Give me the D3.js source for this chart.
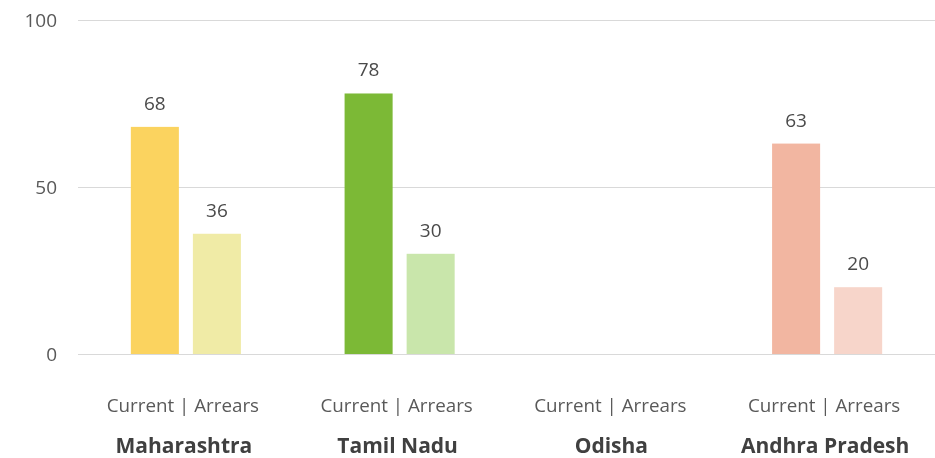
<!DOCTYPE html>
<html>
<head lang="en">
    <meta charset="UTF-8">
    <title></title>
    <script src="https://cdn.jsdelivr.net/npm/d3@7"></script>
    <style>
        *{
            margin: 0;
            padding: 0;
        }
        body{ background:#fff; }
        text{ font-family: "Open Sans", Lato, sans-serif; }
    </style>
</head>
<body>
<div id="mychart" style="width:935px;height:458px;position:fixed;left:0;top:0"></div>
<script>
    // data
    var states = ['Maharashtra', 'Tamil Nadu', 'Odisha', 'Andhra Pradesh'];
    var series = ['Current', 'Arrears'];
    var current = [68, 78, null, 63];
    var arrears = [36, 30, null, 20];
    var yticks = [0, 50, 100];
    var subLabel = 'Current | Arrears';

    // colours per state: [current, arrears]
    var colors = [
        ['#FBD35F', '#F0EBA6'],
        ['#7CB936', '#C9E6AB'],
        ['#cccccc', '#eeeeee'],
        ['#F2B6A1', '#F7D5CA']
    ];

    var _svg = d3.select('#mychart').append('svg')
            .attr('width', 935)
            .attr('height', 458);

    var _left = 79, _right = 934, _top = 20, _bottom = 354;

    var _xscale = d3.scaleBand()
            .domain(states)
            .range([_left, _right])
            .paddingInner(0.485)
            .paddingOuter(0.2425);
    var _x1 = d3.scaleBand()
            .domain(series)
            .range([0, _xscale.bandwidth()])
            .paddingInner(0.2258);
    var _yscale = d3.scaleLinear()
            .domain([0, 100])
            .range([_bottom, _top]);

    // y axis + gridlines
    var _gy = _svg.append('g')
            .attr('transform', 'translate(' + 78 + ',0)');
    _gy.call(d3.axisLeft(_yscale)
            .tickValues(yticks)
            .tickSize(-(935 - 78))
            .tickPadding(21));
    _gy.select('.domain').remove();
    _gy.selectAll('line').attr('stroke', '#d9d9d9').attr('stroke-width', 1.2);
    _gy.selectAll('text')
            .attr('fill', '#595959')
            .style('font-size', '19px')
            .style('font-family', '"Open Sans", Lato, sans-serif');

    // bars
    var rows = [];
    states.forEach(function(s, i){
        if (current[i] != null) rows.push({state: s, i: i, k: 0, key: 'Current', v: current[i]});
        if (arrears[i] != null) rows.push({state: s, i: i, k: 1, key: 'Arrears', v: arrears[i]});
    });

    var _gbars = _svg.append('g');
    _gbars.selectAll('rect')
            .data(rows)
            .enter()
            .append('rect')
            .attr('x', function(d){ return _xscale(d.state) + _x1(d.key); })
            .attr('y', function(d){ return _yscale(d.v); })
            .attr('width', _x1.bandwidth())
            .attr('height', function(d){ return _bottom - _yscale(d.v); })
            .attr('fill', function(d){ return colors[d.i][d.k]; });

    _gbars.selectAll('text')
            .data(rows)
            .enter()
            .append('text')
            .attr('x', function(d){ return _xscale(d.state) + _x1(d.key) + _x1.bandwidth() / 2; })
            .attr('y', function(d){ return _yscale(d.v) - 17; })
            .attr('text-anchor', 'middle')
            .attr('fill', '#4a4a4a')
            .style('font-size', '19px')
            .text(function(d){ return d.v; });

    // category labels
    var _glab = _svg.append('g');
    _glab.selectAll('text.sub')
            .data(states)
            .enter()
            .append('text')
            .attr('class', 'sub')
            .attr('x', function(d){ return _xscale(d) + _xscale.bandwidth() / 2 - 3; })
            .attr('y', 412)
            .attr('text-anchor', 'middle')
            .attr('fill', '#595959')
            .style('font-size', '18.8px')
            .text(subLabel);
    _glab.selectAll('text.state')
            .data(states)
            .enter()
            .append('text')
            .attr('class', 'state')
            .attr('x', function(d){ return _xscale(d) + _xscale.bandwidth() / 2 - 2; })
            .attr('y', 453)
            .attr('text-anchor', 'middle')
            .attr('fill', '#404040')
            .style('font-size', '21px')
            .style('font-weight', 'bold')
            .text(function(d){ return d; });
</script>
</body>
</html>
